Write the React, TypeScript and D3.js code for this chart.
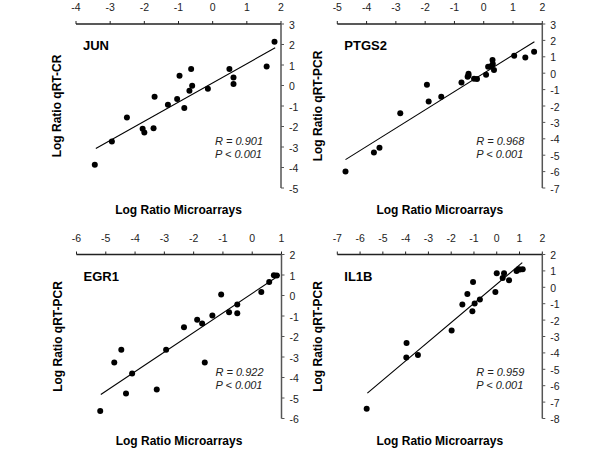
import React from 'react';
import * as d3 from 'd3';

// ---- data ----
const genes = ['JUN', 'PTGS2', 'EGR1', 'IL1B'];
const yTitles = ['Log Ratio qRT-CR', 'Log Ratio qRT-PCR', 'Log Ratio qRT-PCR', 'Log Ratio qRT-PCR'];
const xTitle = 'Log Ratio Microarrays';
const rValues = ['0.901', '0.968', '0.922', '0.959'];
const pText = 'P < 0.001';

const xDomains = [[-4, 2], [-5, 2], [-6, 1], [-7, 2]];
const yDomains = [[-5, 3], [-7, 3], [-6, 2], [-8, 2]];

const junX = [-3.45, -2.95, -2.51, -2.05, -2.0, -1.73, -1.7, -1.31, -1.04, -0.97, -0.83, -0.63, -0.6, -0.68, -0.14, 0.49, 0.61, 0.61, 1.58, 1.81];
const junY = [-3.87, -2.73, -1.56, -2.11, -2.29, -2.08, -0.55, -0.94, -0.66, 0.48, -1.1, 0.8, -0.01, -0.26, -0.16, 0.8, 0.39, 0.07, 0.93, 2.14];

const ptgs2X = [-4.72, -3.75, -3.56, -2.85, -1.94, -1.88, -1.45, -0.76, -0.52, -0.52, -0.55, -0.33, -0.23, 0.08, 0.15, 0.25, 0.3, 0.31, 0.35, 1.04, 1.42, 1.72];
const ptgs2Y = [-6.0, -4.84, -4.54, -2.44, -0.71, -1.73, -1.44, -0.56, -0.14, -0.03, -0.22, -0.34, -0.36, -0.1, 0.39, 0.43, 0.8, 0.56, 0.19, 1.07, 0.96, 1.31];

const egr1X = [-5.19, -4.71, -4.47, -4.31, -4.1, -3.26, -2.94, -2.33, -1.88, -1.71, -1.62, -1.36, -1.06, -0.79, -0.51, -0.51, 0.31, 0.58, 0.74, 0.84];
const egr1Y = [-5.64, -3.27, -2.65, -4.78, -3.81, -4.58, -2.65, -1.55, -1.18, -1.36, -3.27, -0.98, 0.05, -0.82, -0.44, -0.86, 0.17, 0.66, 0.99, 0.97];

const il1bX = [-5.71, -3.96, -3.97, -3.46, -1.98, -1.51, -1.29, -1.07, -1.04, -0.97, -0.74, -0.06, 0.0, 0.32, 0.26, 0.54, 0.87, 0.95, 1.02, 1.14];
const il1bY = [-7.41, -3.4, -4.28, -4.13, -2.64, -1.05, -0.41, -1.46, 0.32, -0.99, -0.74, -0.29, 0.85, 0.85, 0.57, 0.43, 1.0, 1.1, 1.08, 1.1];

const seriesX = [junX, ptgs2X, egr1X, il1bX];
const seriesY = [junY, ptgs2Y, egr1Y, il1bY];

// regression line endpoints [x0, x1], [y0, y1]
const fitX = [[-3.42, 1.83], [-4.72, 1.73], [-5.17, 0.94], [-5.68, 1.12]];
const fitY = [[-3.07, 1.84], [-5.27, 1.92], [-4.83, 1.0], [-6.45, 1.5]];

// ---- layout ----
const W = 600;
const H = 460;
const PW = 205;
const PH = 164;
const origins = [[76, 24], [337.3, 24], [76.5, 254.5], [337.3, 254.5]];
const FONT = '"Liberation Sans", Arial, Helvetica, sans-serif';

function Panel({ i }: { i: number }) {
  const [L, T] = origins[i];
  const x = d3.scaleLinear().domain(xDomains[i]).range([L, L + PW]);
  const y = d3.scaleLinear().domain(yDomains[i]).range([T + PH, T]);
  const xt = d3.range(xDomains[i][0], xDomains[i][1] + 1);
  const yt = d3.range(yDomains[i][0], yDomains[i][1] + 1);
  const line = d3.line<[number, number]>().x((d) => x(d[0])).y((d) => y(d[1]));
  const fitPts: [number, number][] = fitX[i].map((v, k) => [v, fitY[i][k]]);
  const R = L + PW;
  return (
    <g>
      {/* x axis on top */}
      <line x1={L} x2={R} y1={T} y2={T} stroke="#222" strokeWidth={1.3} />
      {xt.map((t) => (
        <g key={'xt' + t}>
          <line x1={x(t)} x2={x(t)} y1={T} y2={T - 3} stroke="#222" strokeWidth={1} />
          <text x={x(t)} y={T - 13} textAnchor="middle" fontSize={10.5} fill="#222" fontFamily={FONT}>
            {t}
          </text>
        </g>
      ))}
      {/* y axis on right */}
      <line x1={R} x2={R} y1={T} y2={T + PH} stroke="#555" strokeWidth={1.5} />
      {yt.map((t) => (
        <g key={'yt' + t}>
          <line x1={R} x2={R + 3} y1={y(t)} y2={y(t)} stroke="#555" strokeWidth={1} />
          <text x={R + 8} y={y(t) + 4.5} textAnchor="start" fontSize={10.5} fill="#222" fontFamily={FONT}>
            {t}
          </text>
        </g>
      ))}
      {/* fit line */}
      <path d={line(fitPts) || ''} fill="none" stroke="#000" strokeWidth={1.1} />
      {/* points */}
      {seriesX[i].map((v, k) => (
        <circle key={k} cx={x(v)} cy={y(seriesY[i][k])} r={3} fill="#000" />
      ))}
      {/* gene label */}
      <text x={L + 7} y={T + 26} fontSize={13} fontWeight="bold" fill="#000" fontFamily={FONT}>
        {genes[i]}
      </text>
      {/* stats */}
      <text x={L + 139} y={T + 121} fontSize={11} fontStyle="italic" fill="#222" fontFamily={FONT}>
        {'R = ' + rValues[i]}
      </text>
      <text x={L + 139} y={T + 134} fontSize={11} fontStyle="italic" fill="#222" fontFamily={FONT}>
        {pText}
      </text>
      {/* axis titles */}
      <text x={L + PW / 2} y={T + 190} textAnchor="middle" fontSize={12} fontWeight="bold" fill="#000" fontFamily={FONT}>
        {xTitle}
      </text>
      <text
        transform={`translate(${L - 15},${T + PH / 2}) rotate(-90)`}
        textAnchor="middle"
        fontSize={12}
        fontWeight="bold"
        fill="#000"
        fontFamily={FONT}
      >
        {yTitles[i]}
      </text>
    </g>
  );
}

export default function App() {
  return (
    <svg
      width={W}
      height={H}
      viewBox={`0 0 ${W} ${H}`}
      style={{ position: 'absolute', left: 0, top: 0, background: '#fff' }}
    >
      <rect x={0} y={0} width={W} height={H} fill="#fff" />
      {genes.map((g, i) => (
        <Panel key={g} i={i} />
      ))}
    </svg>
  );
}
